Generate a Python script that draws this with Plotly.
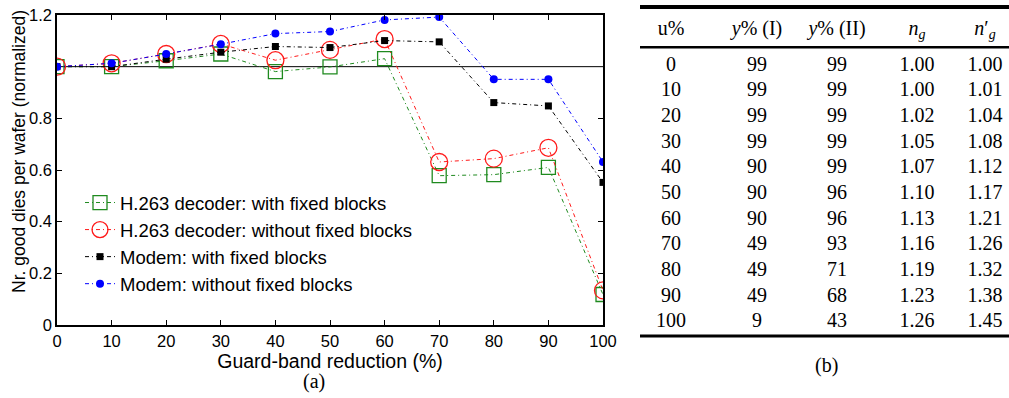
import plotly.graph_objects as go

# ---------------- data: chart (a) ----------------
guard_band = [0, 10, 20, 30, 40, 50, 60, 70, 80, 90, 100]
h263_fixed = [1.00, 1.00, 1.023, 1.049, 0.981, 0.999, 1.031, 0.578, 0.582, 0.610, 0.118]
h263_nofixed = [1.00, 1.013, 1.049, 1.088, 1.025, 1.065, 1.107, 0.631, 0.644, 0.686, 0.134]
modem_fixed = [1.00, 1.00, 1.029, 1.056, 1.078, 1.074, 1.101, 1.096, 0.861, 0.848, 0.552]
modem_nofixed = [1.00, 1.013, 1.049, 1.087, 1.128, 1.136, 1.181, 1.192, 0.951, 0.951, 0.631]
series_names = ["H.263 decoder: with fixed blocks", "H.263 decoder: without fixed blocks",
                "Modem: with fixed blocks", "Modem: without fixed blocks"]
y_tickvals = [0, 0.2, 0.4, 0.6, 0.8, 1.2]
y_ticktext = ["0", "0.2", "0.4", "0.6", "0.8", "1.2"]

# ---------------- data: table (b) ----------------
col_headers = ["u%", "<i>y</i>% (I)", "<i>y</i>% (II)", "<i>n</i><sub><i>g</i></sub>",
               "<i>n</i>′<sub><i>g</i></sub>"]
u_pct = [0, 10, 20, 30, 40, 50, 60, 70, 80, 90, 100]
yield_I = [99, 99, 99, 99, 90, 90, 90, 49, 49, 49, 9]
yield_II = [99, 99, 99, 99, 99, 96, 96, 93, 71, 68, 43]
n_g = [1.00, 1.00, 1.02, 1.05, 1.07, 1.10, 1.13, 1.16, 1.19, 1.23, 1.26]
n_g_prime = [1.00, 1.01, 1.04, 1.08, 1.12, 1.17, 1.21, 1.26, 1.32, 1.38, 1.45]

W, H = 1009, 398
SANS = "Liberation Sans, Arial, sans-serif"
SERIF = "Liberation Serif, Times New Roman, serif"
DASH = "4px,3px,1px,3px"

fig = go.Figure()

styles = [
    dict(color="#1f8a1f", symbol="square-open", size=14, lw=1.3),
    dict(color="#ff1a1a", symbol="circle-open", size=17, lw=1.3),
    dict(color="#000000", symbol="square", size=7, lw=0),
    dict(color="#0000ff", symbol="circle", size=8, lw=0),
]
for name, vals, st in zip(series_names, [h263_fixed, h263_nofixed, modem_fixed, modem_nofixed], styles):
    fig.add_trace(go.Scatter(
        x=guard_band, y=vals, name=name, mode="lines+markers",
        line=dict(color=st["color"], width=1, dash=DASH),
        marker=dict(symbol=st["symbol"], size=st["size"], color=st["color"],
                    line=dict(color=st["color"], width=st["lw"])),
        xaxis="x", yaxis="y"))

# ---------------- table as text traces ----------------
col_x = [671, 757, 837, 917, 985]
header_row = -1.39
columns = [
    [str(v) for v in u_pct],
    [str(v) for v in yield_I],
    [str(v) for v in yield_II],
    [f"{v:.2f}" for v in n_g],
    [f"{v:.2f}" for v in n_g_prime],
]
rows = list(range(len(u_pct)))
for cx, hdr, col in zip(col_x, col_headers, columns):
    fig.add_trace(go.Scatter(
        x=[cx] * (len(col) + 1), y=[header_row] + rows, text=[hdr] + col,
        mode="text", textposition="middle center",
        textfont=dict(family=SERIF, size=20, color="black"),
        showlegend=False, hoverinfo="skip", xaxis="x2", yaxis="y2"))

x0_frac = 57 / W
x1_frac = 603 / W
fig.update_layout(
    width=W, height=H,
    margin=dict(l=0, r=0, t=0, b=0),
    paper_bgcolor="white", plot_bgcolor="white",
    template="none",
    showlegend=True,
    legend=dict(x=80 / W, y=(H - 184) / H, xanchor="left", yanchor="top",
                font=dict(family=SANS, size=18.5, color="black"),
                bgcolor="rgba(0,0,0,0)", borderwidth=0, tracegroupgap=0),
    xaxis=dict(domain=[x0_frac, x1_frac], range=[0, 100], tickvals=guard_band,
               ticks="inside", ticklen=5, tickcolor="black", mirror="ticks",
               showline=True, linecolor="black", linewidth=1.5,
               showgrid=False, zeroline=False, anchor="y",
               tickfont=dict(family=SANS, size=16.5, color="black"),
               title=dict(text="Guard-band reduction (%)", standoff=1,
                          font=dict(family=SANS, size=19.5, color="black"))),
    yaxis=dict(domain=[73 / H, 383 / H], range=[0, 1.2], tickvals=y_tickvals, ticktext=y_ticktext,
               ticks="inside", ticklen=5, tickcolor="black", mirror="ticks",
               showline=True, linecolor="black", linewidth=1.5,
               showgrid=False, zeroline=False, anchor="x",
               tickfont=dict(family=SANS, size=16.5, color="black")),
    xaxis2=dict(domain=[620 / W, 1], range=[620, 1009], visible=False, anchor="y2", fixedrange=True),
    yaxis2=dict(domain=[0, 1], range=[12.95, -2.56], visible=False, anchor="x2", fixedrange=True),
    shapes=[
        dict(type="line", xref="x", yref="y", x0=0, x1=100, y0=1.0, y1=1.0,
             line=dict(color="black", width=1), layer="below"),
        dict(type="line", xref="paper", yref="y2", x0=640 / W, x1=1, y0=-2.29, y1=-2.29,
             line=dict(color="black", width=4)),
        dict(type="line", xref="paper", yref="y2", x0=640 / W, x1=1, y0=-0.72, y1=-0.72,
             line=dict(color="black", width=2.5)),
        dict(type="line", xref="paper", yref="y2", x0=640 / W, x1=1, y0=10.53, y1=10.53,
             line=dict(color="black", width=3)),
    ],
    annotations=[
        dict(text="Nr. good dies per wafer (normalized)", textangle=-90, xref="paper", yref="paper",
             x=19 / W, y=(H - 152) / H, xanchor="center", yanchor="middle", showarrow=False,
             font=dict(family=SANS, size=17.5, color="black")),
        dict(text="(a)", xref="paper", yref="paper", x=314 / W, y=(H - 381) / H,
             xanchor="center", yanchor="middle", showarrow=False,
             font=dict(family=SERIF, size=20, color="black")),
        dict(text="(b)", xref="paper", yref="paper", x=826 / W, y=(H - 365) / H,
             xanchor="center", yanchor="middle", showarrow=False,
             font=dict(family=SERIF, size=20, color="black")),
    ],
)

fig.write_html("out.html")
